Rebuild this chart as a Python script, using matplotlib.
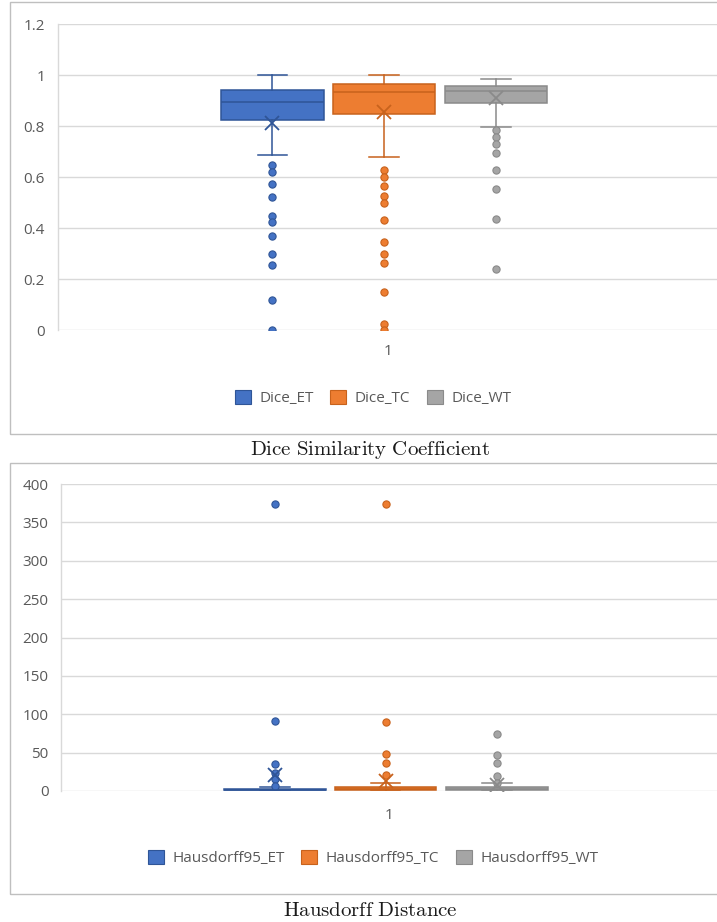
import matplotlib
matplotlib.use("Agg")
import matplotlib.pyplot as plt
from matplotlib.patches import Rectangle, Patch
from matplotlib.ticker import FuncFormatter

# ---------------- data ----------------
category = ["1"]

dice_series = ["Dice_ET", "Dice_TC", "Dice_WT"]
dice_whislo = [0.686, 0.678, 0.796]
dice_q1 = [0.824, 0.846, 0.891]
dice_med = [0.894, 0.932, 0.936]
dice_q3 = [0.941, 0.963, 0.958]
dice_whishi = [1.0, 1.0, 0.983]
dice_mean = [0.813, 0.856, 0.911]
dice_et_out = [0.648, 0.618, 0.573, 0.520, 0.448, 0.422, 0.370, 0.297, 0.254, 0.118, 0.0]
dice_tc_out = [0.627, 0.601, 0.565, 0.525, 0.497, 0.430, 0.344, 0.298, 0.264, 0.148, 0.024, 0.0]
dice_wt_out = [0.784, 0.756, 0.731, 0.693, 0.629, 0.552, 0.434, 0.240]
dice_ticks = [0, 0.2, 0.4, 0.6, 0.8, 1.0, 1.2]

hd_series = ["Hausdorff95_ET", "Hausdorff95_TC", "Hausdorff95_WT"]
hd_whislo = [0.0, 0.0, 0.0]
hd_q1 = [1.0, 1.2, 1.4]
hd_med = [1.8, 2.4, 2.8]
hd_q3 = [3.2, 5.0, 5.0]
hd_whishi = [5.5, 10.5, 10.0]
hd_mean = [21.0, 13.0, 7.5]
hd_et_out = [374, 91, 35.5, 23, 15, 7]
hd_tc_out = [374, 89.5, 48, 36.5, 21]
hd_wt_out = [74.7, 47, 36.5, 20, 11]
hd_ticks = [0, 50, 100, 150, 200, 250, 300, 350, 400]

dice_title = r"$\mathrm{Dice\ Similarity\ Coefficient}$"
hd_title = r"$\mathrm{Hausdorff\ Distance}$"

# ---------------- style ----------------
plt.rcParams["font.family"] = ["Open Sans", "DejaVu Sans"]
plt.rcParams["mathtext.fontset"] = "cm"

W, H = 717, 922
fig = plt.figure(figsize=(W / 100, H / 100), dpi=100)

fills = ["#4472C4", "#ED7D31", "#A5A5A5"]
edges = ["#2F5597", "#C8621C", "#8A8A8A"]
text_c = "#595959"
grid_c = "#D9D9D9"
offsets = [-0.349, -0.012, 0.328]
box_w = 0.31
FS = 11


def fx(px):
    return px / W


def fy(py):
    return 1 - py / H


def draw_panel(ax, whislo, q1, med, q3, whishi, mean, outs, ticks, ylim, xpad):
    for i in range(3):
        st = [dict(whislo=whislo[i], q1=q1[i], med=med[i], q3=q3[i],
                   whishi=whishi[i], mean=mean[i], fliers=outs[i])]
        ax.bxp(st, positions=[1 + offsets[i]], widths=box_w, patch_artist=True,
               showmeans=True, showfliers=True,
               boxprops=dict(facecolor=fills[i], edgecolor=edges[i], linewidth=1.1),
               medianprops=dict(color=edges[i], linewidth=1.1),
               whiskerprops=dict(color=edges[i], linewidth=1.1),
               capprops=dict(color=edges[i], linewidth=1.1),
               capwidths=0.09,
               meanprops=dict(marker="x", markeredgecolor=edges[i], markersize=9.5,
                              markeredgewidth=1.3),
               flierprops=dict(marker="o", markerfacecolor=fills[i],
                               markeredgecolor=edges[i], markersize=5.2,
                               markeredgewidth=0.8, linestyle="none"),
               manage_ticks=False, zorder=3)
    ax.set_xlim(0, 2)
    ax.set_ylim(*ylim)
    ax.set_yticks(ticks)
    ax.yaxis.set_major_formatter(FuncFormatter(lambda v, p: "%g" % v))
    ax.set_xticks([1])
    ax.set_xticklabels(category)
    ax.grid(axis="y", color=grid_c, linewidth=1.0)
    ax.set_axisbelow(True)
    for s in ["top", "right", "bottom"]:
        ax.spines[s].set_visible(False)
    ax.spines["left"].set_color(grid_c)
    ax.spines["left"].set_linewidth(1.0)
    ax.tick_params(axis="y", length=0, pad=9, labelsize=FS, labelcolor=text_c)
    ax.tick_params(axis="x", length=0, pad=xpad, labelsize=FS, labelcolor=text_c)


# frames
for top, bot in [(2, 434), (463, 894)]:
    fig.patches.append(Rectangle((fx(10), fy(bot)), 1.2, (bot - top) / H,
                                 transform=fig.transFigure, fill=False,
                                 edgecolor="#BFBFBF", linewidth=1.0))

ax1 = fig.add_axes([fx(57.5), fy(330), fx(718 - 57.5), (330 - 24) / H])
draw_panel(ax1, dice_whislo, dice_q1, dice_med, dice_q3, dice_whishi,
           dice_mean, [dice_et_out, dice_tc_out, dice_wt_out], dice_ticks, (0, 1.2), 10)

ax2 = fig.add_axes([fx(61), fy(791), fx(718 - 61), (791 - 484) / H])
draw_panel(ax2, hd_whislo, hd_q1, hd_med, hd_q3, hd_whishi,
           hd_mean, [hd_et_out, hd_tc_out, hd_wt_out], hd_ticks, (0, 400), 12)


def legend(ax, names, y):
    handles = [Patch(facecolor=fills[i], edgecolor=edges[i], linewidth=0.8, label=names[i])
               for i in range(3)]
    ax.legend(handles=handles, loc="center", bbox_to_anchor=(fx(373), fy(y)),
              bbox_transform=fig.transFigure, ncol=3, frameon=False,
              fontsize=FS, labelcolor=text_c, handlelength=1.05, handleheight=1.05,
              handletextpad=0.55, columnspacing=1.1, borderaxespad=0)


legend(ax1, dice_series, 398)
legend(ax2, hd_series, 858)

fig.text(fx(370), fy(450), dice_title, ha="center", va="center", fontsize=15,
         color="#1a1a1a")
fig.text(fx(370), fy(910), hd_title, ha="center", va="center", fontsize=15,
         color="#1a1a1a")

fig.savefig("out.png", dpi=100)
